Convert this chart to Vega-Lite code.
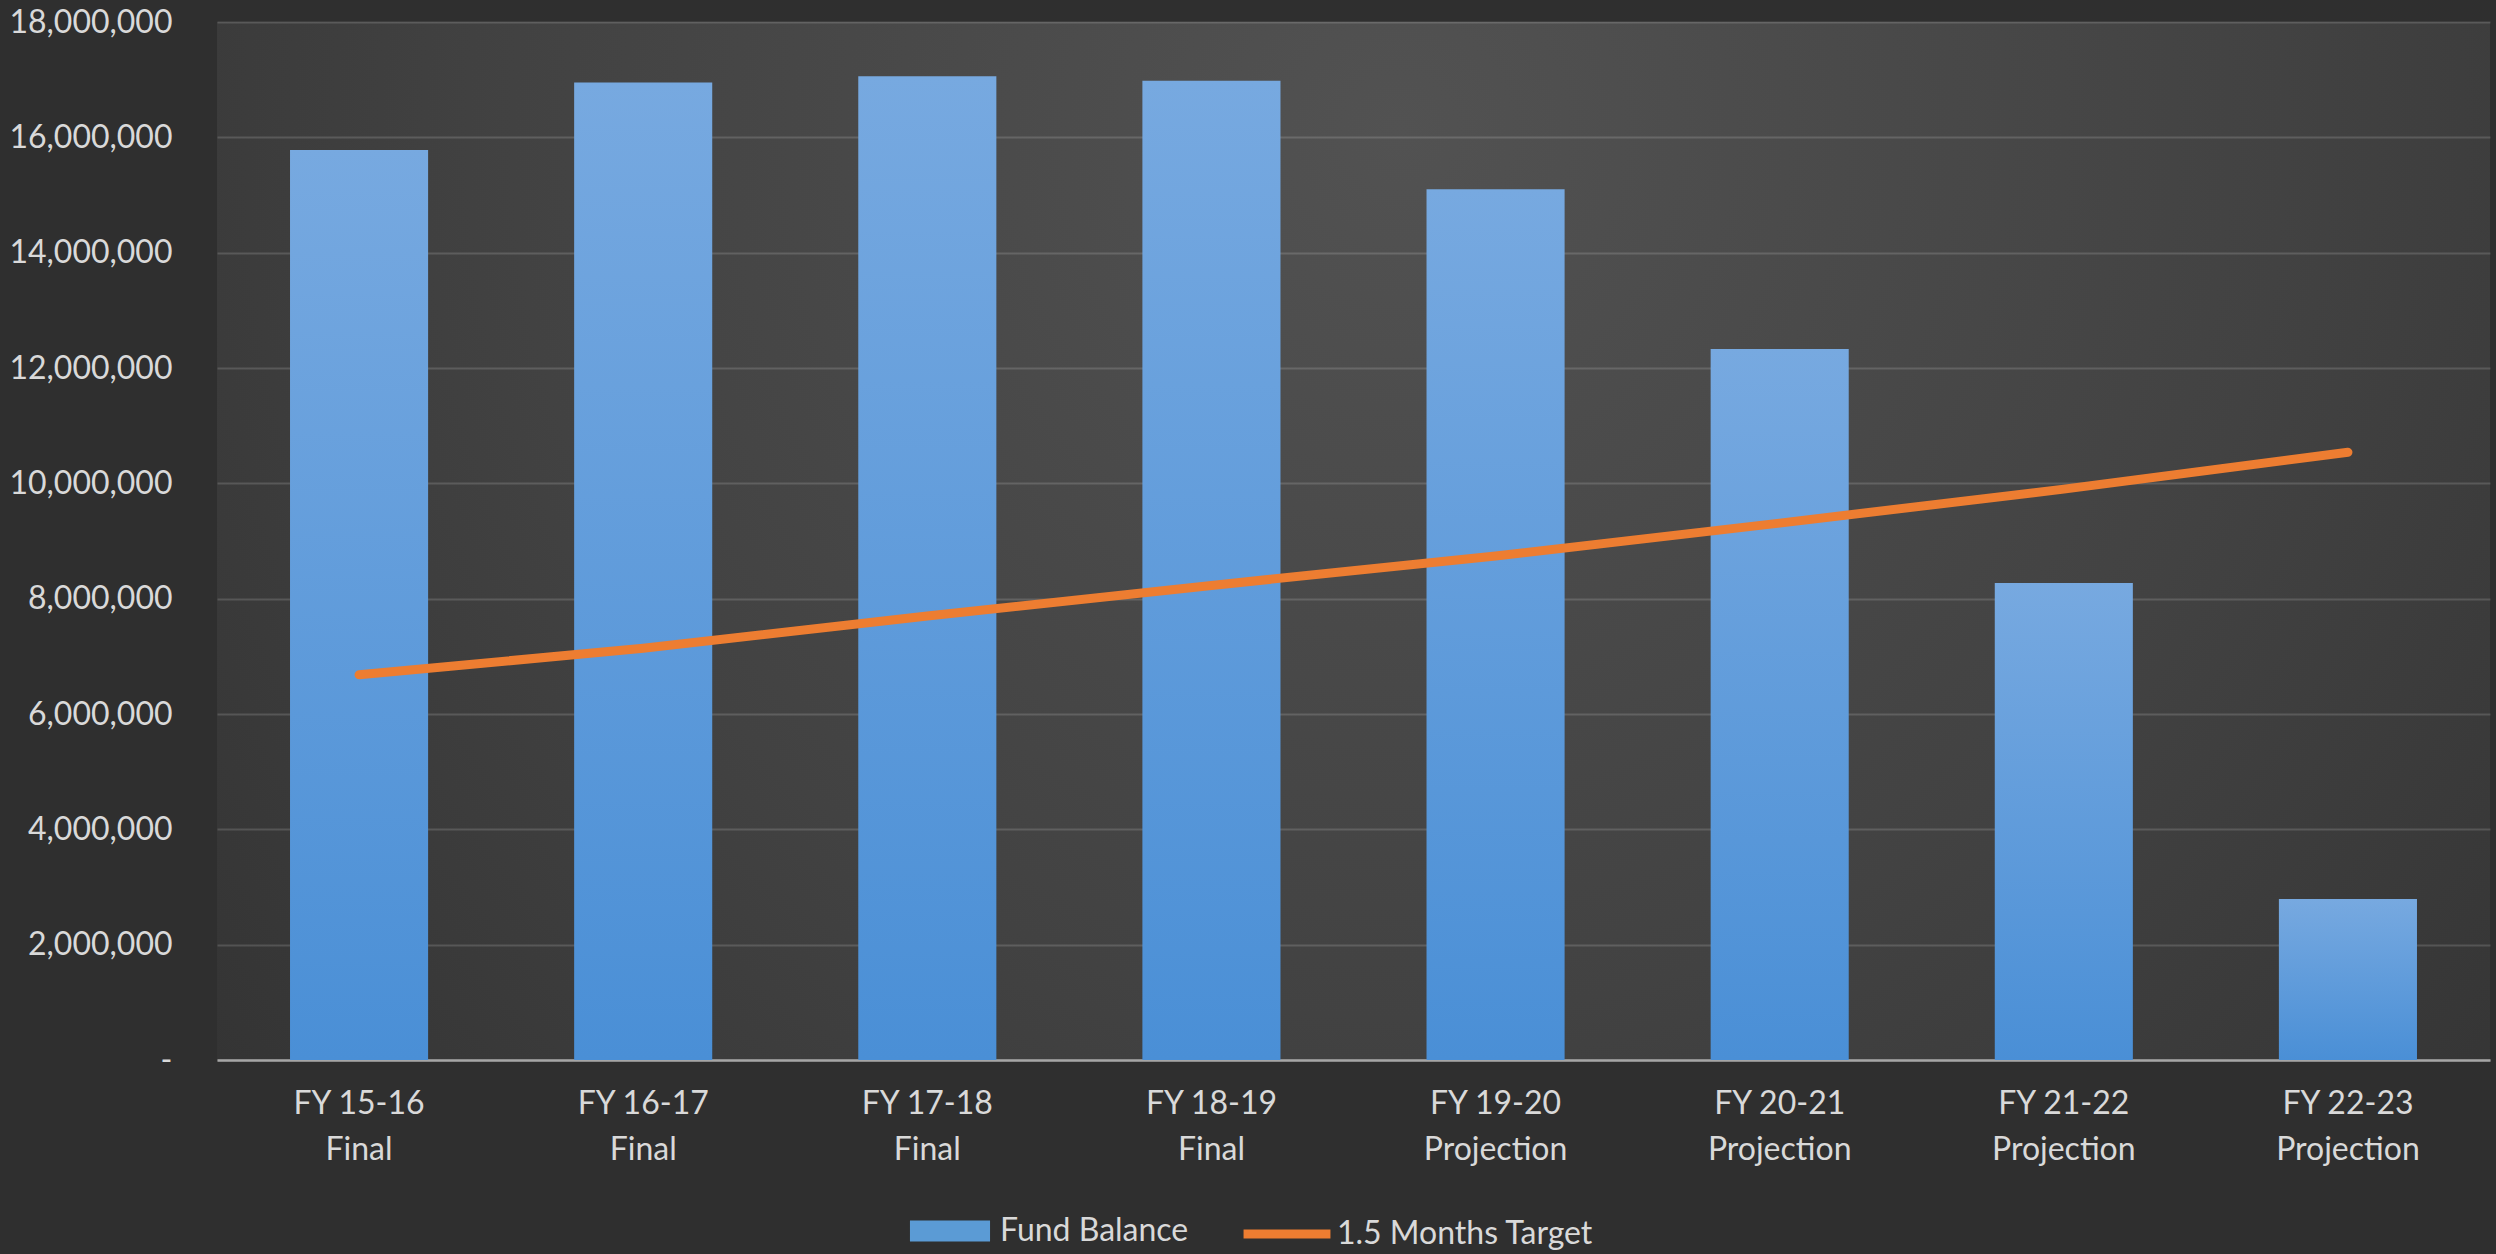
{
  "$schema": "https://vega.github.io/schema/vega-lite/v6.json",
  "width": 2273,
  "height": 1038,
  "autosize": {"type": "none"},
  "padding": {"left": 217, "top": 22, "right": 6, "bottom": 194},
  "background": "#2f2f2f",
  "config": {
    "font": "Lato",
    "view": {
      "stroke": null,
      "fill": {
        "gradient": "radial",
        "x1": 0.52, "y1": 0.32, "r1": 0,
        "x2": 0.52, "y2": 0.32, "r2": 0.78,
        "stops": [
          {"offset": 0, "color": "#525252"},
          {"offset": 0.5, "color": "#424242"},
          {"offset": 0.85, "color": "#343434"},
          {"offset": 1, "color": "#2f2f2f"}
        ]
      }
    },
    "axis": {
      "labelFont": "Lato",
      "labelFontSize": 32,
      "labelColor": "#d9d9d9",
      "title": null
    }
  },
  "data": {
    "values": [
      {"period": "FY 15-16\nFinal", "fund": 15780000, "target": 6680000},
      {"period": "FY 16-17\nFinal", "fund": 16950000, "target": 7140000},
      {"period": "FY 17-18\nFinal", "fund": 17060000, "target": 7700000},
      {"period": "FY 18-19\nFinal", "fund": 16980000, "target": 8230000},
      {"period": "FY 19-20\nProjection", "fund": 15100000, "target": 8740000},
      {"period": "FY 20-21\nProjection", "fund": 12330000, "target": 9310000},
      {"period": "FY 21-22\nProjection", "fund": 8270000, "target": 9900000},
      {"period": "FY 22-23\nProjection", "fund": 2790000, "target": 10540000}
    ]
  },
  "encoding": {
    "x": {
      "field": "period",
      "type": "nominal",
      "sort": null,
      "scale": {"paddingInner": 0, "paddingOuter": 0},
      "axis": {
        "labelAngle": 0,
        "labelExpr": "split(datum.label, '\\n')",
        "labelLineHeight": 46,
        "labelPadding": 28,
        "labelBaseline": "top",
        "ticks": false,
        "grid": false,
        "domain": true,
        "domainColor": "#a6a6a6",
        "domainWidth": 2.5
      }
    }
  },
  "layer": [
    {
      "mark": {
        "type": "bar",
        "width": {"band": 0.486},
        "strokeWidth": 0,
        "fill": {
          "gradient": "linear",
          "x1": 0, "y1": 0, "x2": 0, "y2": 1,
          "stops": [
            {"offset": 0, "color": "#77a9e0"},
            {"offset": 1, "color": "#4a8fd6"}
          ]
        }
      },
      "encoding": {
        "y": {
          "field": "fund",
          "type": "quantitative",
          "scale": {"domain": [0, 18000000]},
          "axis": {
            "values": [0, 2000000, 4000000, 6000000, 8000000, 10000000, 12000000, 14000000, 16000000, 18000000],
            "labelExpr": "datum.value === 0 ? '-\u00a0\u00a0' : format(datum.value, ',')",
            "labelPadding": 45,
            "ticks": false,
            "domain": false,
            "grid": true,
            "gridColor": "#ffffff",
            "gridOpacity": 0.15,
            "gridWidth": 2
          }
        }
      }
    },
    {
      "mark": {
        "type": "line",
        "strokeWidth": 9,
        "strokeCap": "round",
        "strokeJoin": "round"
      },
      "encoding": {
        "y": {"field": "target", "type": "quantitative"},
        "color": {
          "datum": "1.5 Months Target",
          "type": "nominal",
          "scale": {
            "domain": ["Fund Balance", "1.5 Months Target"],
            "range": ["#5b9bd5", "#ed7d31"]
          },
          "legend": {
            "title": null,
            "orient": "none",
            "direction": "horizontal",
            "legendX": 689,
            "legendY": 1165,
            "padding": 0,
            "symbolSize": 6241,
            "symbolStrokeWidth": 9,
            "symbolType": {"expr": "datum.value === 'Fund Balance' ? 'M-0.9,-0.15H0.9V0.15H-0.9Z M-0.9,0H0.9' : 'M-1.1,0H1.1'"},
            "labelFont": "Lato",
            "labelFontSize": 32,
            "labelColor": "#d9d9d9",
            "labelLimit": 500,
            "labelOffset": 6,
            "columnPadding": 36
          }
        }
      }
    }
  ]
}
